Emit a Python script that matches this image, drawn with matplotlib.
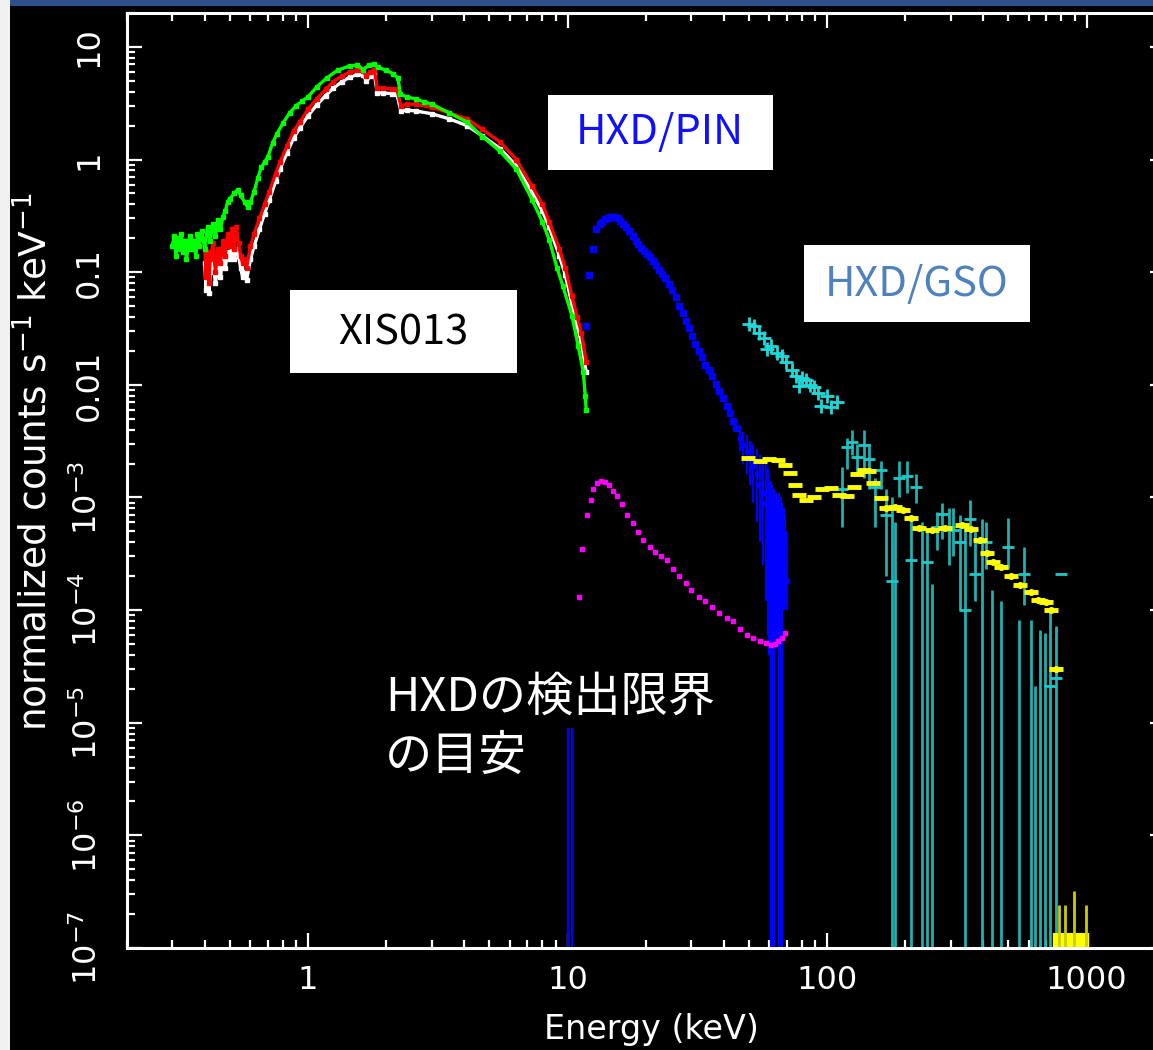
import matplotlib
matplotlib.use("Agg")
import matplotlib.pyplot as plt
from matplotlib.patches import Rectangle
from matplotlib.ticker import FixedLocator, FixedFormatter, LogLocator, NullFormatter

W, H = 1153, 1050

plt.rcParams["font.family"] = ["DejaVu Sans"]
plt.rcParams["mathtext.fontset"] = "dejavusans"

# XIS (green = BI, red / white = FI)
xis_g_e = [0.30, 0.305, 0.31, 0.315, 0.32, 0.325, 0.33, 0.335, 0.34, 0.35, 0.355, 0.36, 0.37,
           0.375, 0.38, 0.39, 0.40, 0.41, 0.42, 0.43, 0.44, 0.45, 0.46, 0.47, 0.48, 0.49, 0.50,
           0.52, 0.535, 0.55, 0.57, 0.585, 0.60, 0.62, 0.64, 0.66, 0.68, 0.70, 0.73, 0.76, 0.80,
           0.85, 0.90, 0.95, 1.00, 1.08, 1.18, 1.30, 1.45, 1.55, 1.63, 1.72, 1.80, 1.86, 2.0,
           2.12, 2.22, 2.27, 2.40, 2.6, 2.8, 3.0, 3.5, 4.1, 4.7, 5.5, 6.35, 7.3, 8.0, 8.5, 9.1,
           9.6, 10.4, 11.0, 11.5, 11.7, 11.8]
xis_g_v = [0.17, 0.21, 0.14, 0.20, 0.16, 0.22, 0.15, 0.19, 0.13, 0.21, 0.16, 0.19, 0.14,
           0.22, 0.17, 0.23, 0.16, 0.25, 0.19, 0.27, 0.21, 0.29, 0.24, 0.31, 0.35, 0.42, 0.45,
           0.50, 0.54, 0.48, 0.42, 0.38, 0.42, 0.52, 0.68, 0.85, 0.95, 1.05, 1.4, 1.7, 2.1,
           2.6, 3.0, 3.3, 3.6, 4.4, 5.3, 6.2, 6.8, 6.9, 6.3, 6.9, 7.0, 6.6, 6.2,
           5.8, 5.3, 3.8, 3.6, 3.45, 3.25, 3.1, 2.6, 2.15, 1.6, 1.18, 0.82, 0.44, 0.28, 0.195, 0.11,
           0.075, 0.041, 0.022, 0.013, 0.008, 0.006]

xis_fi_e = [0.40, 0.405, 0.41, 0.415, 0.42, 0.43, 0.44, 0.45, 0.46, 0.47, 0.48, 0.49, 0.50,
            0.51, 0.52, 0.53, 0.54, 0.55, 0.56, 0.57, 0.58, 0.60, 0.62, 0.65, 0.68, 0.71, 0.75,
            0.78, 0.83, 0.88, 0.93, 1.0, 1.08, 1.17, 1.25, 1.35, 1.45, 1.55, 1.63, 1.68, 1.74,
            1.80, 1.85, 1.95, 2.1, 2.2, 2.28, 2.4, 2.6, 3.0, 3.5, 4.1, 4.7, 5.5, 6.35, 7.3, 8.0,
            8.5, 9.3, 9.8, 10.4, 10.9, 11.3, 11.8]
xis_r_v = [0.17, 0.09, 0.15, 0.08, 0.13, 0.18, 0.10, 0.16, 0.12, 0.19, 0.14, 0.22, 0.17,
           0.24, 0.16, 0.25, 0.18, 0.14, 0.12, 0.13, 0.11, 0.17, 0.22, 0.30, 0.40, 0.52, 0.75,
           0.95, 1.32, 1.8, 2.15, 2.8, 3.45, 4.2, 4.9, 5.5, 6.0, 6.2, 6.1, 5.5, 6.0,
           6.3, 4.3, 4.3, 4.25, 4.2, 3.0, 3.1, 3.1, 2.9, 2.6, 2.3, 1.85, 1.43, 1.0, 0.58, 0.40,
           0.28, 0.16, 0.11, 0.061, 0.040, 0.029, 0.016]
xis_w_v = [0.12, 0.07, 0.11, 0.065, 0.10, 0.13, 0.08, 0.12, 0.09, 0.14, 0.11, 0.15, 0.13,
           0.16, 0.13, 0.16, 0.14, 0.11, 0.09, 0.10, 0.085, 0.13, 0.17, 0.24, 0.33, 0.44, 0.64,
           0.82, 1.15, 1.55, 1.9, 2.45, 3.05, 3.7, 4.3, 4.9, 5.4, 5.7, 5.6, 5.0, 5.5,
           5.8, 3.9, 3.9, 3.85, 3.8, 2.7, 2.75, 2.7, 2.55, 2.3, 2.0, 1.62, 1.25, 0.88, 0.51, 0.35,
           0.25, 0.14, 0.095, 0.052, 0.033, 0.024, 0.013]

# HXD/PIN source points
pin_e = [11.8, 12.1, 12.5, 12.9, 13.3, 13.6, 14.0, 14.3, 14.6, 14.9, 15.2, 15.6, 16.0, 16.4,
         16.8, 17.3, 17.8, 18.3, 18.7, 19.2, 19.7, 20.2, 20.7, 21.3, 21.9, 22.5, 23.1, 23.8,
         24.5, 25.3, 26.1, 27.0, 27.8, 28.7, 29.5, 30.3, 31.1, 32.0, 33.0, 34.0, 35.0, 36.0,
         37.2, 38.5, 39.7, 41.0, 42.2, 43.5, 44.7]
pin_v = [0.033, 0.095, 0.16, 0.24, 0.27, 0.28, 0.295, 0.30, 0.31, 0.31, 0.31, 0.30, 0.285,
         0.27, 0.25, 0.23, 0.21, 0.19, 0.178, 0.165, 0.155, 0.145, 0.135, 0.125, 0.115, 0.105,
         0.097, 0.088, 0.079, 0.070, 0.060, 0.050, 0.043, 0.037, 0.032, 0.027, 0.023, 0.020,
         0.0175, 0.015, 0.0135, 0.012, 0.0102, 0.0088, 0.0076, 0.0065, 0.0056, 0.0048, 0.0041]
# PIN bins with visible error bars
pin_bar_e = [10.0, 10.4, 46.0, 47.5, 49.0, 50.5, 52.0, 53.5, 55.0, 56.5, 58.0, 59.0, 60.0, 60.8,
             61.6, 62.4, 63.5, 64.5, 65.5, 66.3, 67.1, 68.0, 69.0, 70.0]
pin_bar_v = [1e-9, 1e-9, 3.4e-3, 2.9e-3, 2.6e-3, 2.2e-3, 1.9e-3, 1.6e-3, 1.3e-3, 1.1e-3, 9e-4,
             8e-4, 7e-4, 6e-4, 5e-4, 4.5e-4, 4e-4, 3.5e-4, 3e-4, 2.8e-4, 2.5e-4, 2.2e-4, 2e-4, 1.8e-4]
pin_bar_lo = [1e-9, 1e-9, 2.6e-3, 2.0e-3, 1.6e-3, 1.3e-3, 9e-4, 6e-4, 4e-4, 2.5e-4, 1.2e-4,
              6e-5, 4e-5, 1e-9, 1e-9, 1e-9, 5e-5, 8e-5, 1e-9, 1e-9, 1e-9, 1e-4, 1.2e-4, 1e-4]
pin_bar_hi = [9e-6, 9e-6, 4.3e-3, 3.8e-3, 3.6e-3, 3.2e-3, 3.0e-3, 2.7e-3, 2.4e-3, 2.2e-3, 2.0e-3,
              1.8e-3, 1.6e-3, 1.4e-3, 1.3e-3, 1.2e-3, 1.1e-3, 1.0e-3, 1.1e-3, 1.0e-3, 9e-4, 8e-4,
              7e-4, 5e-4]

# PIN detection-limit curve (magenta)
lim_e = [11.1, 11.4, 11.9, 12.3, 12.5, 13.0, 13.5, 14.0, 14.5, 15.0, 15.5, 16.2, 17.0, 17.8,
         18.7, 19.6, 20.7, 21.8, 23.0, 24.2, 25.5, 27.0, 28.5, 30.0, 32.0, 34.0, 36.0, 38.5,
         41.0, 43.5, 46.0, 49.0, 52.0, 55.0, 58.0, 61.0, 63.0, 65.0, 67.0, 69.0]
lim_v = [1.3e-4, 3.5e-4, 7e-4, 9.5e-4, 1.2e-3, 1.35e-3, 1.4e-3, 1.38e-3, 1.3e-3, 1.15e-3,
         1.03e-3, 8.8e-4, 7.0e-4, 5.9e-4, 4.9e-4, 4.2e-4, 3.6e-4, 3.3e-4, 3.0e-4, 2.8e-4,
         2.3e-4, 2.0e-4, 1.75e-4, 1.5e-4, 1.3e-4, 1.2e-4, 1.07e-4, 9.5e-5, 8.5e-5, 8.0e-5,
         6.8e-5, 6.0e-5, 5.6e-5, 5.3e-5, 5.1e-5, 4.9e-5, 5.0e-5, 5.3e-5, 5.7e-5, 6.3e-5]

# HXD/GSO, well measured part (50-110 keV)
gso_e = [50, 52.5, 54.6, 57, 58.8, 61, 64, 67, 69.5, 73, 76, 78, 80, 83, 86, 89, 92, 95, 100,
         104, 109]
gso_v = [0.035, 0.033, 0.029, 0.026, 0.021, 0.022, 0.019, 0.018, 0.016, 0.0135, 0.012, 0.0097,
         0.0115, 0.011, 0.010, 0.0095, 0.0085, 0.0065, 0.008, 0.0063, 0.007]

# HXD/GSO, high-energy bins with error bars
gso_bar_e = [114, 119, 125, 130, 139, 145, 153, 161, 168, 178, 183, 190, 203, 210, 221, 232, 243,
             254, 266, 278, 294, 307, 326, 341, 357, 373, 395, 411, 431, 470, 500, 550, 572, 610,
             633, 660, 690, 725, 760, 800]
gso_bar_v = [1.2e-3, 2.8e-3, 3.1e-3, 2.3e-3, 2.9e-3, 2.2e-3, 1.24e-3, 1.76e-3, 7.0e-4, 1.8e-4,
             1e-9, 1.5e-3, 1.55e-3, 2.8e-4, 1.24e-3, 1e-9, 2.7e-4, 1e-9, 5.5e-4, 7.2e-4, 5.5e-4,
             5.1e-4, 4.0e-4, 1e-4, 6.5e-4, 2.1e-4, 4.0e-4, 4.0e-4, 1e-9, 1e-9, 3.6e-4, 1e-9,
             2.1e-4, 1e-9, 1e-9, 1e-9, 1e-9, 2.1e-5, 2.5e-5, 2.1e-4]
gso_bar_lo = [5.5e-4, 1.8e-3, 2.4e-3, 1.6e-3, 1.5e-3, 1.2e-3, 5.5e-4, 1.2e-3, 2.0e-4, 1e-9,
              1e-9, 1.0e-3, 1.1e-3, 1e-9, 8.9e-4, 1e-9, 1e-9, 1e-9, 3.4e-4, 4.3e-4, 2.5e-4,
              3.0e-4, 1.0e-4, 1e-9, 3.7e-4, 1.2e-4, 1e-9, 2.3e-4, 1e-9, 1e-9, 2.3e-4, 1e-9,
              1.1e-4, 1e-9, 1e-9, 1e-9, 1e-9, 1e-9, 1e-9, 2.1e-4]
gso_bar_hi = [1.86e-3, 3.4e-3, 4.0e-3, 3.0e-3, 4.0e-3, 3.0e-3, 1.5e-3, 2.1e-3, 1.2e-3, 1.0e-3,
              6.0e-4, 2.1e-3, 2.1e-3, 7.0e-4, 1.6e-3, 6.0e-4, 5.2e-4, 1.7e-4, 7.5e-4, 9.0e-4,
              8.0e-4, 8.0e-4, 7.0e-4, 5.5e-4, 9.5e-4, 5.5e-4, 6.5e-4, 6.0e-4, 1.5e-4, 1.2e-4,
              6.6e-4, 8.2e-5, 3.6e-4, 8.2e-5, 2.1e-5, 6.6e-5, 6.3e-5, 9.6e-5, 7.2e-5, 2.1e-4]

# GSO background (yellow)
bgd_e = [49.5, 55, 60, 65, 69, 72, 75, 78, 83, 89, 96, 104, 111, 119, 127, 131, 139, 145, 151,
         161, 168, 183, 197, 210, 226, 254, 285, 330, 360, 390, 412, 435, 470, 510, 555, 610,
         650, 700, 730, 760]
bgd_v = [2.24e-3, 2.1e-3, 2.2e-3, 2.15e-3, 1.95e-3, 1.66e-3, 1.3e-3, 1.05e-3, 9.5e-4, 1.0e-3,
         1.2e-3, 1.22e-3, 1.05e-3, 1.03e-3, 1.25e-3, 1.6e-3, 1.75e-3, 1.7e-3, 1.35e-3, 9.8e-4,
         8.1e-4, 8.3e-4, 7.8e-4, 6.6e-4, 5.4e-4, 5.1e-4, 5.4e-4, 5.7e-4, 5.2e-4, 4.2e-4,
         3.2e-4, 2.7e-4, 2.4e-4, 2.0e-4, 1.66e-4, 1.44e-4, 1.23e-4, 1.17e-4, 1.0e-4, 3.0e-5]
# last background bins, piled on the lower axis
bgd_low_e = [770, 790, 810, 830, 850, 870, 890, 910, 930, 950, 970, 990]
bgd_low_v = [1.36e-7, 1.36e-7, 1.36e-7, 1.36e-7, 1.36e-7, 1.36e-7, 1.36e-7, 1.36e-7, 1.36e-7,
             1.36e-7, 1.36e-7, 1.36e-7]
bgd_low_bar_e = [780, 823, 891, 991]
bgd_low_bar_hi = [2.4e-7, 2.4e-7, 3.2e-7, 2.4e-7]

X_TICKS = [1, 10, 100, 1000]
X_TICK_LABELS = ["1", "10", "100", "1000"]
Y_TICKS = [1e-7, 1e-6, 1e-5, 1e-4, 1e-3, 1e-2, 1e-1, 1, 10]
Y_TICK_LABELS = [r"$10^{-7}$", r"$10^{-6}$", r"$10^{-5}$", r"$10^{-4}$", r"$10^{-3}$",
                 "0.01", "0.1", "1", "10"]

JP = ["Noto Sans CJK JP", "DejaVu Sans"]


def fx(px):
    return px / W


def fy(py):
    return 1 - py / H


def add_box(fig, x0, y0, x1, y1):
    fig.patches.append(Rectangle((fx(x0), fy(y1)), fx(x1) - fx(x0), fy(y0) - fy(y1),
                                 transform=fig.transFigure, facecolor="white",
                                 edgecolor="none", zorder=5))


def main():
    fig = plt.figure(figsize=(W / 100, H / 100), dpi=100, facecolor="black")
    ax = fig.add_axes([fx(126.6), fy(948), fx(1164.7) - fx(126.6), fy(13) - fy(948)])
    ax.set_facecolor("black")
    ax.set_xscale("log")
    ax.set_yscale("log")
    ax.set_xlim(0.2, 2000)
    ax.set_ylim(1e-7, 20)

    # XIS
    ax.plot(xis_fi_e, xis_w_v, color="white", lw=2.4, marker="s", ms=2.5)
    ax.plot(xis_fi_e, xis_r_v, color="#ff0000", lw=2.4, marker="s", ms=2.5)
    ax.plot(xis_g_e, xis_g_v, color="#00ff00", lw=2.4, marker="s", ms=2.5)

    # PIN
    ax.vlines(pin_bar_e, pin_bar_lo, pin_bar_hi, color="#0000ff", lw=1.6)
    ax.plot(pin_bar_e, pin_bar_v, ls="none", marker="s", ms=3, color="#0000ff")
    ax.plot(pin_e, pin_v, ls="none", marker="s", ms=4, color="#0000ff")
    ax.plot(lim_e, lim_v, ls="none", marker="s", ms=3.5, color="#ff00ff")

    # GSO
    ax.vlines(gso_bar_e, gso_bar_lo, gso_bar_hi, color="#1fb0b0", lw=2)
    ax.plot(gso_bar_e, gso_bar_v, ls="none", marker="_", ms=9, mew=2, color="#1fc8c8")
    ax.plot(gso_e, gso_v, ls="none", marker="+", ms=10, mew=2, color="#20d8d8")

    ax.plot(bgd_e, bgd_v, ls="none", marker="_", ms=10, mew=3.5, color="#ffff00")
    ax.plot(bgd_e[20:], bgd_v[20:], ls="none", marker="o", ms=4, color="#ffff00")
    ax.vlines(bgd_low_e, 1e-9, bgd_low_v, color="#ffff00", lw=6)
    ax.vlines(bgd_low_bar_e, 1e-9, bgd_low_bar_hi, color="#cccc00", lw=2)

    # frame and ticks
    for sp in ax.spines.values():
        sp.set_color("white")
        sp.set_linewidth(2.2)
    ax.xaxis.set_major_locator(FixedLocator(X_TICKS))
    ax.xaxis.set_major_formatter(FixedFormatter(X_TICK_LABELS))
    ax.xaxis.set_minor_locator(LogLocator(base=10, subs=range(2, 10), numticks=20))
    ax.xaxis.set_minor_formatter(NullFormatter())
    ax.yaxis.set_major_locator(FixedLocator(Y_TICKS))
    ax.yaxis.set_major_formatter(FixedFormatter(Y_TICK_LABELS))
    ax.yaxis.set_minor_locator(LogLocator(base=10, subs=range(2, 10), numticks=20))
    ax.yaxis.set_minor_formatter(NullFormatter())
    ax.tick_params(which="both", direction="in", top=True, right=True, color="white",
                   labelcolor="white", width=1.6, labelsize=23)
    ax.tick_params(which="major", length=11)
    ax.tick_params(which="minor", length=5.5)
    ax.tick_params(axis="x", pad=12)
    ax.tick_params(axis="y", pad=16)
    for lab in ax.get_yticklabels():
        lab.set_rotation(90)
        lab.set_va("center")
        lab.set_ha("right")

    fig.text(fx(651), fy(1030), "Energy (keV)", color="white", fontsize=24,
             ha="center", va="center")
    fig.text(fx(35), fy(462), r"normalized counts s$^{-1}$ keV$^{-1}$", color="white",
             fontsize=27, rotation=90, ha="center", va="center")

    # page decoration
    fig.patches.append(Rectangle((0, 0), fx(10), 1, transform=fig.transFigure,
                                 facecolor="#f0f0f0", edgecolor="none", zorder=4))
    fig.patches.append(Rectangle((fx(10), fy(6)), 1, fy(0) - fy(6), transform=fig.transFigure,
                                 facecolor="#2f4f8c", edgecolor="none", zorder=4))

    # labels
    add_box(fig, 548, 95, 773, 170)
    fig.text(fx(660), fy(133), "HXD/PIN", color="#1010ff", fontsize=30, family=JP,
             ha="center", va="center", zorder=6)
    add_box(fig, 804, 245, 1030, 322)
    fig.text(fx(917), fy(284), "HXD/GSO", color="#4f81bd", fontsize=30, family=JP,
             ha="center", va="center", zorder=6)
    add_box(fig, 290, 290, 517, 373)
    fig.text(fx(403), fy(333), "XIS013", color="black", fontsize=30, family=JP,
             ha="center", va="center", zorder=6)
    fig.text(fx(385), fy(697), "HXDの検出限界", color="white", fontsize=34, family=JP,
             ha="left", va="center", zorder=6)
    fig.text(fx(385), fy(757), "の目安", color="white", fontsize=34, family=JP,
             ha="left", va="center", zorder=6)

    fig.savefig("out.png", dpi=100, facecolor="black")


if __name__ == "__main__":
    main()
